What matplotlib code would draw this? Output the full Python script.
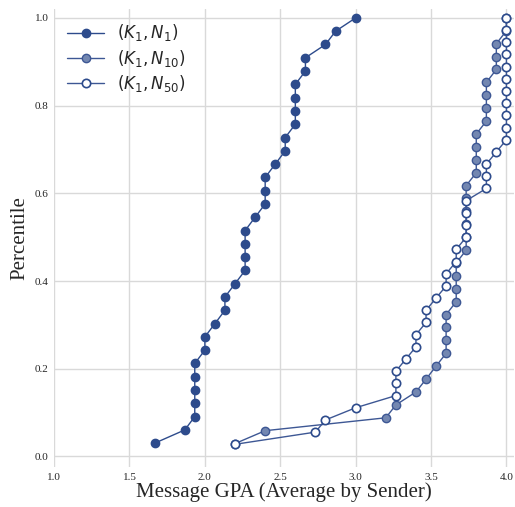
import numpy as np
import matplotlib
matplotlib.use('Agg')
import matplotlib.pyplot as plt
import seaborn as sns

# message GPA per sender, sorted, for each setting
gpa_n1 = [1.667, 1.867, 1.933, 1.933, 1.933, 1.933, 1.933, 2.0, 2.0, 2.067,
          2.133, 2.133, 2.2, 2.267, 2.267, 2.267, 2.267, 2.333, 2.4, 2.4,
          2.4, 2.467, 2.533, 2.533, 2.6, 2.6, 2.6, 2.6, 2.667, 2.667,
          2.8, 2.867, 3.0]
gpa_n10 = [2.2, 2.4, 3.2, 3.267, 3.4, 3.467, 3.533, 3.6, 3.6, 3.6,
           3.6, 3.667, 3.667, 3.667, 3.667, 3.733, 3.733, 3.733, 3.733, 3.733,
           3.733, 3.8, 3.8, 3.8, 3.8, 3.867, 3.867, 3.867, 3.867, 3.933,
           3.933, 3.933, 4.0, 4.0]
gpa_n50 = [2.2, 2.733, 2.8, 3.0, 3.267, 3.267, 3.267, 3.333, 3.4, 3.4,
           3.467, 3.467, 3.533, 3.6, 3.6, 3.667, 3.667, 3.733, 3.733, 3.733,
           3.733, 3.867, 3.867, 3.867, 3.933, 4.0, 4.0, 4.0, 4.0, 4.0,
           4.0, 4.0, 4.0, 4.0, 4.0, 4.0]
labels = [r'$(K_1, N_1)$', r'$(K_1, N_{10})$', r'$(K_1, N_{50})$']
xticks = [1.0, 1.5, 2.0, 2.5, 3.0, 3.5, 4.0]
yticks = [0.0, 0.2, 0.4, 0.6, 0.8, 1.0]

sns.set_style('whitegrid')

def percentiles(vals):
    n = len(vals)
    return np.arange(1, n + 1) / n

fig, ax = plt.subplots(figsize=(5.15, 5.07), dpi=100)

navy = '#2d4b8c'
ax.plot(gpa_n1, percentiles(gpa_n1), '-o', color=navy, lw=1.0, ms=6,
        mfc=navy, mec=navy, label=labels[0])
ax.plot(gpa_n10, percentiles(gpa_n10), '-o', color='#3d5794', lw=1.0, ms=6,
        mfc='#7387b1', mec='#3d5794', mew=1.0, label=labels[1])
ax.plot(gpa_n50, percentiles(gpa_n50), '-o', color='#3d5794', lw=1.0, ms=6,
        mfc='white', mec='#2d4b8c', mew=1.2, label=labels[2])

ax.set_xlim(1.0, 4.05)
ax.set_ylim(-0.025, 1.02)
ax.set_xticks(xticks)
ax.set_yticks(yticks)
ax.tick_params(labelsize=8, length=0, pad=4)
for t in ax.get_xticklabels() + ax.get_yticklabels():
    t.set_fontfamily('Liberation Serif')
ax.set_xlabel('Message GPA (Average by Sender)', fontsize=15,
              fontfamily='Liberation Serif', labelpad=0)
ax.set_ylabel('Percentile', fontsize=15, fontfamily='Liberation Serif')
ax.grid(True, color='#d9d9d9', lw=1.0)
sns.despine(ax=ax, left=True, bottom=True)

ax.legend(loc='upper left', fontsize=12, frameon=False,
          bbox_to_anchor=(0.0, 1.0), handlelength=2.2, labelspacing=0.25,
          borderaxespad=0.4)

fig.subplots_adjust(left=0.105, right=0.998, top=0.982, bottom=0.078)
fig.savefig('out.png', dpi=100)
